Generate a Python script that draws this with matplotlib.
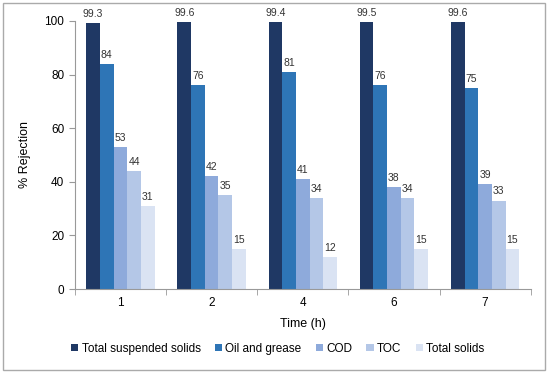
import numpy as np
import matplotlib.pyplot as plt
from matplotlib.patches import Rectangle

plt.rcParams['font.family'] = ['Liberation Sans', 'DejaVu Sans']

# Data
times = ['1', '2', '4', '6', '7']
series = ['Total suspended solids', 'Oil and grease', 'COD', 'TOC', 'Total solids']
tss = [99.3, 99.6, 99.4, 99.5, 99.6]
oil = [84, 76, 81, 76, 75]
cod = [53, 42, 41, 38, 39]
toc = [44, 35, 34, 34, 33]
ts = [31, 15, 12, 15, 15]
labels_tss = ['99.3', '99.6', '99.4', '99.5', '99.6']
colors = ['#1f3864', '#2e75b6', '#8eaadb', '#b4c7e7', '#dae3f3']

values = [tss, oil, cod, toc, ts]

fig = plt.figure(figsize=(5.5, 3.73), dpi=100)
ax = fig.add_axes([0.136, 0.225, 0.829, 0.719])

x = np.arange(len(times))
w = 0.15
for i, (name, vals, c) in enumerate(zip(series, values, colors)):
    pos = x + (i - 2) * w
    ax.bar(pos, vals, w, color=c, label=name)
    for j, (p, v) in enumerate(zip(pos, vals)):
        txt = labels_tss[j] if i == 0 else str(v)
        ax.annotate(txt, (p, v), xytext=(0, 3), textcoords='offset points',
                    ha='center', va='bottom', fontsize=7.5, color='#333333')

ax.set_xlim(-0.5, len(times) - 0.5)
ax.set_ylim(0, 100)
ax.set_yticks([0, 20, 40, 60, 80, 100])
ax.set_xticks(x)
ax.set_xticklabels(times)
ax.set_xticks(np.arange(-0.5, len(times)), minor=True)
ax.tick_params(axis='x', which='major', length=0, labelsize=8.5, pad=6)
ax.tick_params(axis='x', which='minor', length=4, color='#999999')
ax.tick_params(axis='y', length=4, color='#999999', labelsize=8.5)
for s in ['top', 'right']:
    ax.spines[s].set_visible(False)
for s in ['left', 'bottom']:
    ax.spines[s].set_color('#999999')
ax.set_ylabel('% Rejection', fontsize=9, labelpad=10)
ax.set_xlabel('Time (h)', fontsize=9, labelpad=6)

fig.legend(*ax.get_legend_handles_labels(), loc='center',
           bbox_to_anchor=(0.505, 0.065), ncol=5, frameon=False,
           fontsize=8.5, handlelength=0.6, handleheight=0.6, handletextpad=0.3,
           columnspacing=1.2)

fig.patches.append(Rectangle((0.006, 0.008), 0.984, 0.984, transform=fig.transFigure,
                             fill=False, edgecolor='#aaaaaa', linewidth=1))

fig.savefig('out.png', dpi=100)
